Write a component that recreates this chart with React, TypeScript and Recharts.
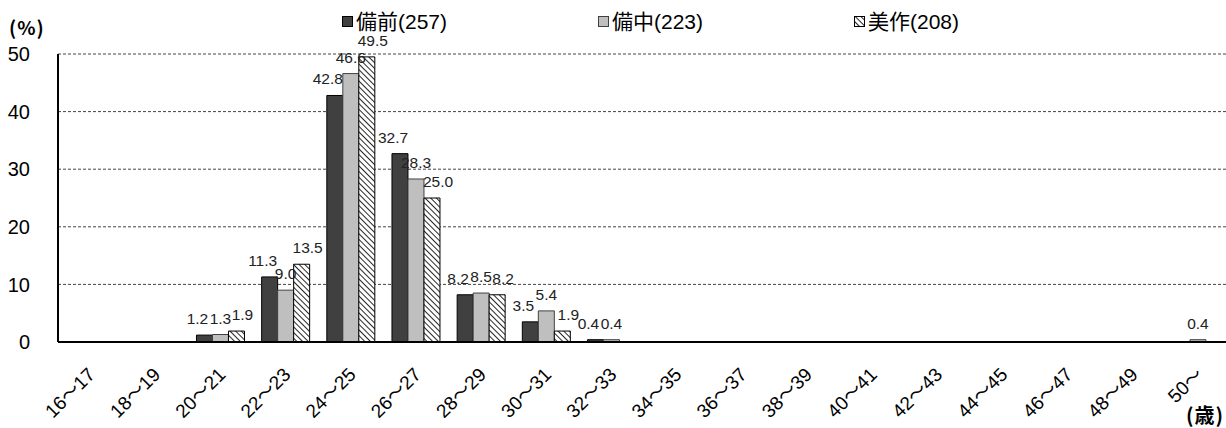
import React from 'react';
import { BarChart, Bar, XAxis, YAxis, CartesianGrid, LabelList } from 'recharts';

const categories = ['16～17', '18～19', '20～21', '22～23', '24～25', '26～27', '28～29', '30～31', '32～33', '34～35', '36～37', '38～39', '40～41', '42～43', '44～45', '46～47', '48～49', '50～'];
const bizenValues = [0, 0, 1.2, 11.3, 42.8, 32.7, 8.2, 3.5, 0.4, 0, 0, 0, 0, 0, 0, 0, 0, 0];
const bitchuValues = [0, 0, 1.3, 9.0, 46.6, 28.3, 8.5, 5.4, 0.4, 0, 0, 0, 0, 0, 0, 0, 0, 0.4];
const mimasakaValues = [0, 0, 1.9, 13.5, 49.5, 25.0, 8.2, 1.9, 0, 0, 0, 0, 0, 0, 0, 0, 0, 0];
const seriesNames = ['備前(257)', '備中(223)', '美作(208)'];
const yTicks = [0, 10, 20, 30, 40, 50];

const FONT = "'Liberation Sans', Arial, 'Noto Sans CJK JP', sans-serif";

const data = categories.map((c, i) => ({
  category: c,
  bizen: bizenValues[i],
  bitchu: bitchuValues[i],
  mimasaka: mimasakaValues[i],
}));

const seriesStyle = [
  { key: 'bizen', fill: '#404040', stroke: '#000', labelDx: -7 },
  { key: 'bitchu', fill: '#bfbfbf', stroke: '#404040', labelDx: 0 },
  { key: 'mimasaka', fill: 'url(#hatch)', stroke: '#000', labelDx: 6 },
];

const makeLabel = (dx: number) => (props: any) => {
  const { x, y, width, value } = props;
  if (!value || value <= 0) return null;
  return (
    <text x={Number(x) + Number(width) / 2 + dx} y={Number(y) - 11} textAnchor="middle" fontSize={15.5} fill="#222" fontFamily={FONT}>
      {Number(value).toFixed(1)}
    </text>
  );
};

const XTick = (props: any) => {
  const { x, y, payload } = props;
  return (
    <g transform={`translate(${x + 1},${y + 21})`}>
      <text transform="rotate(-45)" textAnchor="end" fontSize={19} fill="#000" fontFamily={FONT} dy="0.35em">
        {payload.value}
      </text>
    </g>
  );
};

const HatchDefs = ({ id }: { id: string }) => (
  <defs>
    <pattern id={id} patternUnits="userSpaceOnUse" width="4" height="4" patternTransform="rotate(-45)">
      <rect width="4" height="4" fill="#fff" />
      <line x1="0" y1="0" x2="0" y2="4" stroke="#000" strokeWidth="1.7" />
    </pattern>
  </defs>
);

export default function App() {
  return (
    <div style={{ position: 'absolute', left: 0, top: 0, width: 1226, height: 428, overflow: 'hidden', background: '#fff', fontFamily: FONT }}>
      <BarChart width={1231} height={428} data={data} margin={{ top: 54, right: 0, left: 0, bottom: 0 }} barCategoryGap="12.5%" barGap={0}>
        <HatchDefs id="hatch" />
        <CartesianGrid vertical={false} stroke="#444" strokeDasharray="3 2" />
        <XAxis dataKey="category" interval={0} height={86} tickLine={false} axisLine={{ stroke: '#000', strokeWidth: 2 }} tick={<XTick />} />
        <YAxis width={58} domain={[0, 50]} ticks={yTicks} tickLine={false} axisLine={{ stroke: '#000', strokeWidth: 2 }} tick={{ fontSize: 20, fill: '#000', fontFamily: FONT }} tickMargin={22} />
        {seriesStyle.map((s) => (
          <Bar key={s.key} dataKey={s.key} fill={s.fill} stroke={s.stroke} strokeWidth={1} isAnimationActive={false}>
            <LabelList dataKey={s.key} content={makeLabel(s.labelDx)} />
          </Bar>
        ))}
      </BarChart>
      <div style={{ position: 'absolute', left: 9, top: 16, fontSize: 19, fontWeight: 'bold', letterSpacing: 1, fontFamily: "'Noto Sans CJK JP', sans-serif", lineHeight: '22px' }}>(%)</div>
      <div style={{ position: 'absolute', left: 1186, top: 403, fontSize: 20, fontWeight: 'bold', letterSpacing: 1, fontFamily: "'Noto Sans CJK JP', sans-serif", lineHeight: '24px' }}>(歳)</div>
      <div style={{ position: 'absolute', left: 342, top: 9, display: 'flex' }}>
        {seriesNames.map((name, i) => (
          <div key={name} style={{ width: 256, display: 'flex', alignItems: 'center', fontSize: 21, lineHeight: '26px' }}>
            <svg width={12} height={12} style={{ marginRight: 2 }}>
              {i === 2 && <HatchDefs id="hatchLegend" />}
              <rect x={0.5} y={0.5} width={10} height={10} fill={i === 2 ? 'url(#hatchLegend)' : seriesStyle[i].fill} stroke={seriesStyle[i].stroke} />
            </svg>
            <span>{name}</span>
          </div>
        ))}
      </div>
    </div>
  );
}
